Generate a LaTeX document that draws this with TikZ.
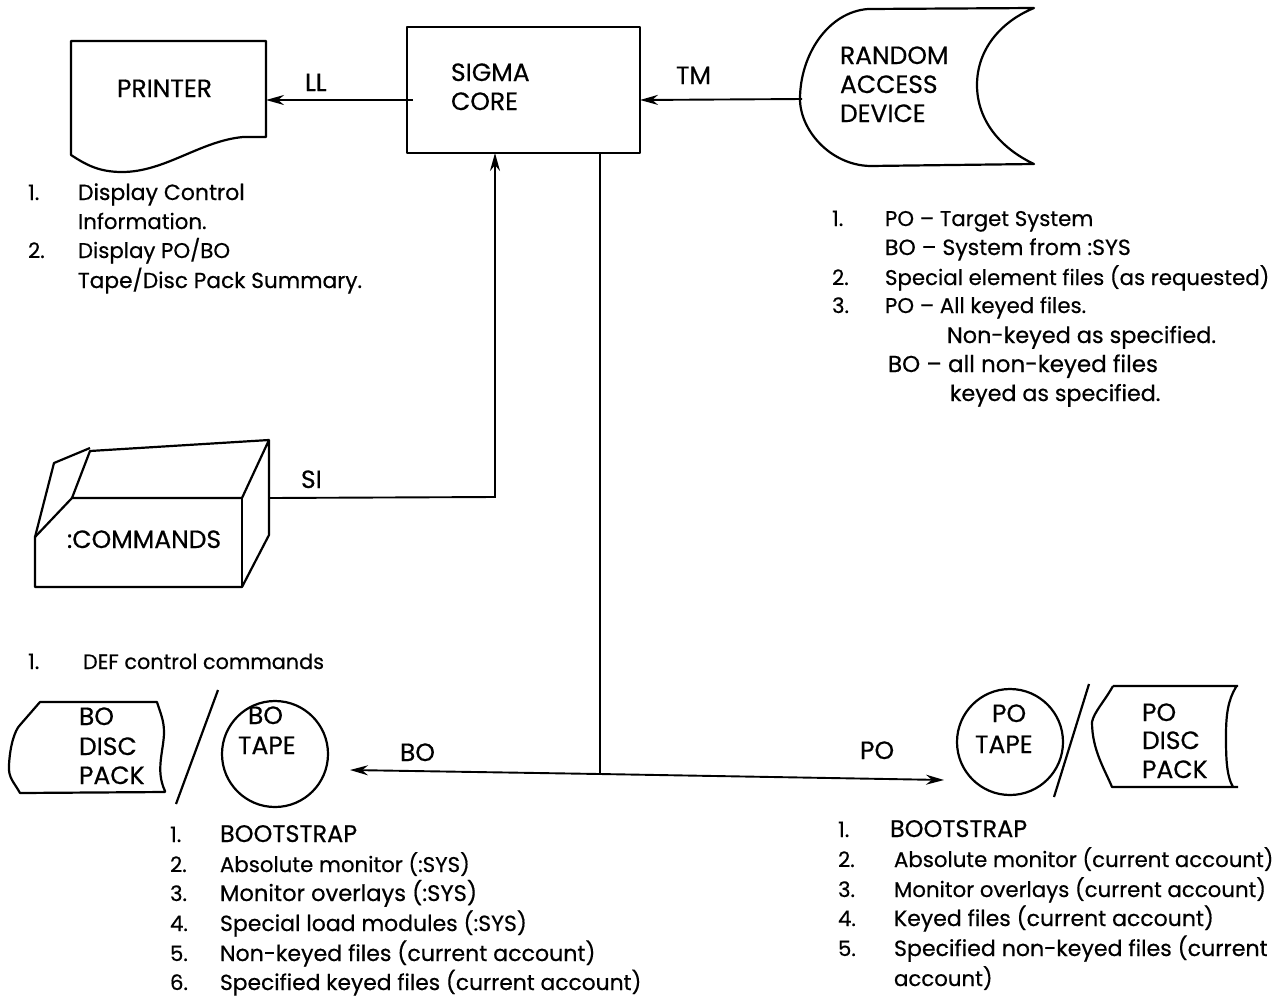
\documentclass[tikz,border=0pt]{standalone}
\usepackage{fontspec}
\setmainfont{Poppins}[FakeBold=0.5]
\usetikzlibrary{arrows.meta}
\tikzset{
  txt/.style={anchor=base west,inner sep=0pt,outer sep=0pt,font=\fontsize{21.3}{24}\selectfont},
  sz/.style={font=\fontsize{#1}{24}\selectfont},
  captxt/.style={anchor=base west,inner sep=0pt,outer sep=0pt,font=\fontsize{25}{28}\selectfont},
  boottxt/.style={anchor=base west,inner sep=0pt,outer sep=0pt,font=\fontsize{24}{28}\selectfont},
  shp/.style={line width=2.2pt,line join=round},
  conn/.style={line width=1.9pt},
  arr/.style={conn,-{Stealth[length=18pt,width=10pt]}},
  anch/.style={inner sep=0pt,outer sep=0pt,draw=none}
}
\begin{document}
\begin{tikzpicture}[x=1pt,y=-1pt]
\useasboundingbox (0,0) rectangle (1279,999);
% shapes
\node[draw,shp,minimum width=233pt,minimum height=126pt,inner sep=0pt] (core) at (523.5,90) {};
\draw[shp] (71,41) -- (266,41) -- (266,137) -- (243,137) .. controls (200,141) and (165,172) .. (122,172) .. controls (98,172) and (85,164) .. (71,155) -- cycle;
\node[anch,minimum width=195pt,minimum height=120pt] (printer) at (168.5,100) {};
\draw[shp] (1034,8) -- (868,9) .. controls (828,12) and (800,55) .. (800,99) .. controls (800,130) and (830,165) .. (870,166) -- (1034,164) .. controls (1000,148) and (977,120) .. (977,85) .. controls (977,50) and (1000,22) .. (1034,8) -- cycle;
\node[anch,minimum width=2pt,minimum height=2pt] (rad) at (803,99) {};
\draw[shp] (35,537) -- (35,587) -- (242,587) -- (269,535) -- (269,440) -- (242,498) -- (72,498) -- cycle;
\draw[shp] (72,498) -- (90,451) -- (269,440);
\draw[shp] (90,448) -- (54,463) -- (35,537);
\draw[shp] (242,498) -- (242,587);
\node[anch,minimum width=2pt,minimum height=2pt] (cmd) at (269,498) {};
\draw[shp] (40,702) -- (157,702) .. controls (160,712) and (164,720) .. (164,732) .. controls (164,750) and (155,770) .. (165,791) -- (165,792) -- (20,793) .. controls (14,782) and (8,778) .. (9,765) .. controls (10,745) and (15,730) .. (20,725) -- cycle;
\node[draw,shp,circle,minimum size=106pt,inner sep=0pt] (botape) at (275,754) {};
\draw[shp] (218,690) -- (176,804);
\node[draw,shp,circle,minimum size=106pt,inner sep=0pt] (potape) at (1010,742) {};
\draw[shp] (1089,684) -- (1054,797);
\draw[shp] (1113,686) -- (1238,686) (1236,687) .. controls (1228,700) and (1226,715) .. (1226,735) .. controls (1226,755) and (1226,775) .. (1233,787) (1238,787) -- (1112,787) .. controls (1105,770) and (1092,750) .. (1092,722) .. controls (1094,712) and (1104,702) .. (1113,686);
% connectors
\coordinate (corer) at (640,100);
\coordinate (coreb) at (495,153);
\coordinate (busT) at (600,153);
\coordinate (busJ) at (600,774);
\coordinate (siJ) at (495,497);
\coordinate (coreL) at (413,100);
\coordinate (boEnd) at (350,770);
\coordinate (poEnd) at (944,780);
\draw[arr] (coreL) -- (printer.east);
\draw[arr] (rad) -- (corer);
\draw[arr] (cmd) -- (siJ) -- (coreb);
\draw[conn] (busT) -- (busJ);
\draw[arr] (busJ) -- (boEnd);
\draw[arr] (busJ) -- (poEnd);
% labels in shapes
\node[captxt] (n1) at (117,97) {PRINTER};
\node[captxt] (n2) at (451,81) {SIGMA};
\node[captxt] (n3) at (451,110) {CORE};
\node[captxt] (n4) at (840,64) {RANDOM};
\node[captxt] (n5) at (840,93) {ACCESS};
\node[captxt] (n6) at (840,122) {DEVICE};
\node[captxt] (n7) at (67,548) {:COMMANDS};
\node[captxt] (n8) at (79,725) {BO};
\node[captxt] (n9) at (79,755) {DISC};
\node[captxt] (n10) at (79,784) {PACK};
\node[captxt] (n11) at (248,724) {BO};
\node[captxt] (n12) at (238,754) {TAPE};
\node[captxt] (n13) at (992,722) {PO};
\node[captxt] (n14) at (975,753) {TAPE};
\node[captxt] (n15) at (1142,721) {PO};
\node[captxt] (n16) at (1142,749) {DISC};
\node[captxt] (n17) at (1142,778) {PACK};
\node[captxt] (l1) at (305,91) {LL};
\node[captxt] (l2) at (676,84) {TM};
\node[captxt] (l3) at (301,488) {SI};
\node[captxt] (l4) at (400,761) {BO};
\node[captxt] (l5) at (860,759) {PO};
% notes
\node[txt] (a1) at (28,200) {1.};
\node[txt,sz=22] (a2) at (78,200) {Display Control};
\node[txt] (a3) at (78,229) {Information.};
\node[txt] (a4) at (28,258) {2.};
\node[txt] (a5) at (78,258) {Display PO/BO};
\node[txt,sz=21.7] (a6) at (78,288) {Tape/Disc Pack Summary.};
\node[txt] (b1) at (832,226) {1.};
\node[txt] (b2) at (885,226) {PO -- Target System};
\node[txt,sz=22] (b3) at (885,255) {BO -- System from :SYS};
\node[txt] (b4) at (832,285) {2.};
\node[txt] (b5) at (885,285) {Special element files (as requested)};
\node[txt] (b6) at (832,313) {3.};
\node[txt] (b7) at (885,313) {PO -- All keyed files.};
\node[txt,sz=22.4] (b8) at (947,343) {Non-keyed as specified.};
\node[txt,sz=23] (b9) at (888,372) {BO -- all non-keyed files};
\node[txt,sz=22.2] (b10) at (950,401) {keyed as specified.};
\node[txt] (c1) at (28,669) {1.};
\node[txt,sz=20.8] (c2) at (83,669) {DEF control commands};
\node[txt] (d1) at (170,842) {1.};
\node[boottxt] (d2) at (220,842) {BOOTSTRAP};
\node[txt] (d3) at (170,872) {2.};
\node[txt] (d4) at (220,872) {Absolute monitor (:SYS)};
\node[txt] (d5) at (170,901) {3.};
\node[txt,sz=22.6] (d6) at (220,901) {Monitor overlays (:SYS)};
\node[txt] (d7) at (170,931) {4.};
\node[txt,sz=22] (d8) at (220,931) {Special load modules (:SYS)};
\node[txt] (d9) at (170,961) {5.};
\node[txt,sz=22.1] (d10) at (220,961) {Non-keyed files (current account)};
\node[txt] (d11) at (170,990) {6.};
\node[txt,sz=21.8] (d12) at (220,990) {Specified keyed files (current account)};
\node[txt] (e1) at (838,837) {1.};
\node[boottxt] (e2) at (890,837) {BOOTSTRAP};
\node[txt] (e3) at (838,867) {2.};
\node[txt] (e4) at (894,867) {Absolute monitor (current account)};
\node[txt] (e5) at (838,897) {3.};
\node[txt] (e6) at (894,897) {Monitor overlays (current account)};
\node[txt] (e7) at (838,926) {4.};
\node[txt,sz=22] (e8) at (894,926) {Keyed files (current account)};
\node[txt] (e9) at (838,956) {5.};
\node[txt,sz=22.1] (e10) at (894,956) {Specified non-keyed files (current};
\node[txt] (e11) at (894,986) {account)};
\end{tikzpicture}
\end{document}
